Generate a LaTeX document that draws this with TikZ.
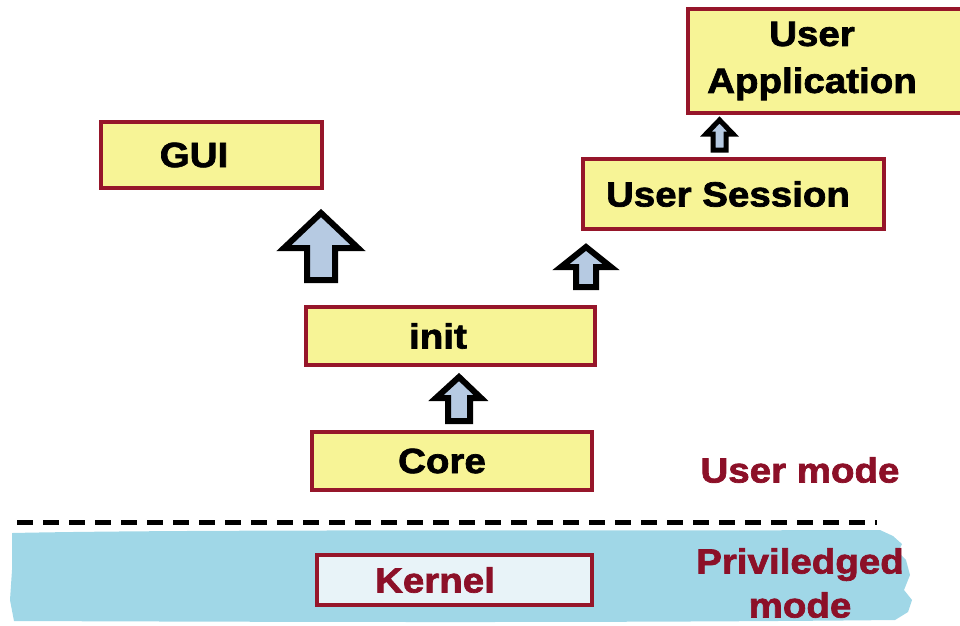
\documentclass[tikz,border=0pt]{standalone}
\usepackage{fontspec}
\newfontfamily\heavyfont{Liberation Sans Bold}[FakeStretch=1.1, FakeBold=2]
\definecolor{boxred}{RGB}{150,22,42}
\definecolor{txtred}{RGB}{140,16,40}
\definecolor{boxyellow}{RGB}{247,244,150}
\definecolor{band}{RGB}{160,215,231}
\definecolor{kernelfill}{RGB}{232,243,248}
\definecolor{arrowfill}{RGB}{182,202,226}
\tikzset{
  box/.style={draw=boxred, line width=4pt, fill=boxyellow, inner sep=0pt,
    font=\heavyfont\fontsize{35}{47}\selectfont, text=black, align=center},
  redlabel/.style={font=\heavyfont\fontsize{35}{44}\selectfont, text=txtred, align=center, inner sep=0pt},
  uparrow/.style={draw=black, line width=6pt, line join=miter, fill=arrowfill}
}
\begin{document}
\begin{tikzpicture}[x=1pt,y=-1pt]
\useasboundingbox (0,0) rectangle (960,625);
% privileged band
\fill[band] (12,533) .. controls (200,529) and (600,531) .. (880,530)
  -- (893,536) -- (902,544) -- (898,552) -- (906,560) -- (910,575) -- (904,590)
  -- (912,600) -- (908,612) -- (895,620) .. controls (600,623) and (300,622) .. (14,621)
  -- (10,600) -- (12,570) -- cycle;
% dashed separator
\coordinate (dl) at (17,522);
\coordinate (dr) at (877,522);
\draw[line width=5pt, dash pattern=on 16pt off 10pt] (dl) -- (dr);
% boxes
\node[box, minimum width=221, minimum height=66] (gui) at (211.5,155) {\hspace*{-35pt}GUI};
\node[box, minimum width=276, minimum height=104] (app) at (826,61) {\hspace*{-28pt}User\\\hspace*{-28pt}Application};
\node[box, minimum width=301, minimum height=70] (session) at (733.5,194) {\hspace*{-11pt}User Session};
\node[box, minimum width=289, minimum height=58] (init) at (450.5,336) {\hspace*{-25pt}init};
\node[box, minimum width=280, minimum height=58] (core) at (452,461) {\hspace*{-20pt}Core};
\node[box, fill=kernelfill, text=txtred, minimum width=275, minimum height=50] (kernel) at (454.5,580) {\hspace*{-39pt}Kernel};
% labels
\node[redlabel] (umode) at (800,470) {User mode};
\node[redlabel] (pmode) at (800,583) {Priviledged\\mode};
% block arrows
\draw[uparrow] (321,213) -- (358,248) -- (335,248) -- (335,280) -- (307,280) -- (307,248) -- (284,248) -- cycle;
\draw[uparrow] (459,377) -- (481,398) -- (470,398) -- (470,421) -- (448,421) -- (448,398) -- (436,398) -- cycle;
\draw[uparrow] (586,247) -- (611,267) -- (596,267) -- (596,287) -- (576,287) -- (576,267) -- (561,267) -- cycle;
\draw[uparrow, line width=5pt] (719.5,120) -- (733,134) -- (726,134) -- (726,150) -- (713,150) -- (713,134) -- (706,134) -- cycle;
\end{tikzpicture}
\end{document}
